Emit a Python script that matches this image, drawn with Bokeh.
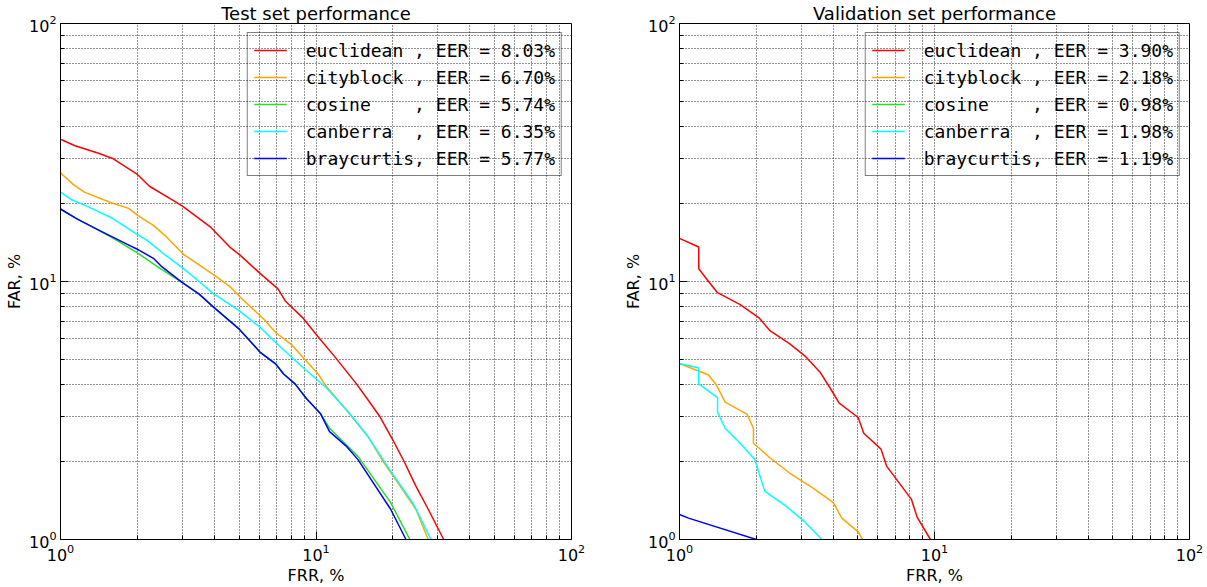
from bokeh.plotting import figure
from bokeh.layouts import row
from bokeh.models import FixedTicker, Legend, LegendItem
from bokeh.embed import file_html
from bokeh.resources import INLINE

# ---------------- data ----------------
metrics = ["euclidean", "cityblock", "cosine", "canberra", "braycurtis"]
colors = ["#ff0000", "#ffa500", "#22e022", "#00ffff", "#0000ff"]

test_eer = [8.03, 6.70, 5.74, 6.35, 5.77]
val_eer = [3.90, 2.18, 0.98, 1.98, 1.19]

# Test set curves (FRR %, FAR %)
test_frr_euclidean = [1.0, 1.14, 1.40, 1.61, 2.0, 2.23, 2.79, 3.02, 3.88, 4.60, 5.07, 6.07, 7.10, 7.60, 8.88,
                      10.0, 11.9, 14.4, 16.2, 17.8, 20.0, 22.1, 24.6, 27.5, 31.6]
test_far_euclidean = [35.6, 33.6, 31.5, 29.9, 26.0, 23.4, 20.5, 19.5, 16.2, 13.6, 12.6, 10.7, 9.36, 8.38, 7.23,
                      6.24, 5.08, 4.01, 3.41, 2.99, 2.43, 2.01, 1.61, 1.31, 1.0]
test_frr_cityblock = [1.0, 1.12, 1.24, 1.58, 1.85, 2.01, 2.31, 2.56, 3.04, 3.49, 4.15, 4.6, 5.02, 6.28, 6.97,
                      8.0, 9.03, 10.2, 10.9, 13.0, 16.0, 18.3, 21.8, 24.6, 27.5]
test_far_cityblock = [26.4, 23.8, 22.2, 20.2, 19.2, 18.0, 16.5, 15.1, 12.7, 11.6, 10.3, 9.56, 8.75, 7.11, 6.33,
                      5.71, 5.0, 4.38, 3.95, 3.22, 2.50, 2.01, 1.56, 1.31, 1.0]
test_frr_cosine = [1.0, 1.16, 1.38, 1.61, 1.98, 2.31, 2.47, 2.99, 3.49, 3.94, 5.02, 6.07, 6.97, 7.47, 8.28,
                   9.19, 10.4, 11.3, 14.6, 19.6, 23.3]
test_far_cosine = [19.1, 17.5, 16.0, 14.7, 13.0, 11.7, 11.2, 9.93, 8.93, 8.01, 6.52, 5.30, 4.78, 4.38, 4.01,
                   3.51, 3.08, 2.70, 2.10, 1.39, 1.0]
test_frr_canberra = [1.0, 1.10, 1.28, 1.61, 1.98, 2.19, 2.56, 3.04, 3.49, 3.94, 4.94, 6.07, 6.97, 8.87, 10.9,
                     13.4, 16.0, 19.6, 24.1, 28.2]
test_far_canberra = [22.2, 20.8, 19.5, 17.5, 15.3, 14.4, 12.7, 11.2, 10.0, 9.01, 7.78, 6.62, 5.79, 4.65, 3.90,
                     3.12, 2.50, 1.84, 1.37, 1.0]
test_frr_braycurtis = [1.0, 1.16, 1.38, 1.81, 1.98, 2.31, 2.47, 2.99, 3.49, 3.94, 5.02, 6.07, 6.97, 7.47, 8.28,
                       9.19, 10.4, 11.3, 13.2, 14.6, 19.6, 22.5]
test_far_braycurtis = [19.1, 17.5, 16.0, 14.0, 13.4, 12.3, 11.5, 9.93, 8.93, 8.01, 6.52, 5.30, 4.78, 4.38, 4.01,
                       3.51, 3.08, 2.62, 2.29, 2.04, 1.31, 1.0]

# Validation set curves (FRR %, FAR %)
val_frr_euclidean = [1.0, 1.19, 1.19, 1.30, 1.41, 1.73, 2.05, 2.27, 2.70, 3.10, 3.56, 3.95, 4.23, 5.02, 5.28,
                     6.17, 6.50, 8.12, 8.55, 9.64]
val_far_euclidean = [14.7, 13.6, 11.2, 10.0, 9.05, 8.13, 7.23, 6.43, 5.74, 5.15, 4.45, 3.78, 3.38, 2.97, 2.58,
                     2.24, 1.92, 1.43, 1.22, 1.0]
val_frr_cityblock = [1.0, 1.30, 1.40, 1.51, 1.84, 1.95, 1.95, 2.27, 2.70, 3.32, 4.01, 4.33, 5.02, 5.23]
val_far_cityblock = [4.81, 4.34, 3.95, 3.41, 3.06, 2.70, 2.36, 2.07, 1.81, 1.59, 1.39, 1.21, 1.07, 1.0]
val_frr_cosine = [0.6, 0.98]
val_far_cosine = [1.5, 0.98]
val_frr_canberra = [1.0, 1.19, 1.19, 1.41, 1.41, 1.51, 1.73, 1.97, 2.16, 2.61, 3.10, 3.62]
val_far_canberra = [4.81, 4.62, 4.01, 3.55, 3.12, 2.70, 2.36, 2.05, 1.54, 1.35, 1.17, 1.0]
val_frr_braycurtis = [1.0, 1.085, 2.0]
val_far_braycurtis = [1.25, 1.21, 1.0]

test_curves = [(test_frr_euclidean, test_far_euclidean), (test_frr_cityblock, test_far_cityblock),
               (test_frr_cosine, test_far_cosine), (test_frr_canberra, test_far_canberra),
               (test_frr_braycurtis, test_far_braycurtis)]
val_curves = [(val_frr_euclidean, val_far_euclidean), (val_frr_cityblock, val_far_cityblock),
              (val_frr_cosine, val_far_cosine), (val_frr_canberra, val_far_canberra),
              (val_frr_braycurtis, val_far_braycurtis)]

major_ticks = [1, 10, 100]
minor_ticks = [2, 3, 4, 5, 6, 7, 8, 9, 20, 30, 40, 50, 60, 70, 80, 90]

NB = "\u00a0"


def make_label(name, eer):
    padded = name.ljust(10).replace(" ", NB)
    return f"{padded}, EER = {eer:.2f}%"


def make_plot(title, curves, eers, width, border_left, border_right):
    p = figure(width=width, height=587, x_axis_type="log", y_axis_type="log",
               x_range=(1, 100), y_range=(1, 100), output_backend="svg",
               toolbar_location=None, min_border_left=border_left, min_border_right=border_right,
               min_border_top=22, min_border_bottom=43)
    p.title.text = title
    p.title.align = "center"
    p.title.text_font = "DejaVu Sans"
    p.title.text_font_size = "18px"
    p.title.text_font_style = "normal"
    p.title.text_color = "black"
    p.title.standoff = 0
    p.title.offset = 0

    for ax in (p.xaxis[0], p.yaxis[0]):
        ax.ticker = FixedTicker(ticks=major_ticks, minor_ticks=minor_ticks)
        ax.major_label_text_font = "DejaVu Sans"
        ax.major_label_text_font_size = "16px"
        ax.major_label_text_color = "black"
        ax.axis_label_text_font = "DejaVu Sans"
        ax.axis_label_text_font_size = "16px"
        ax.axis_label_text_font_style = "normal"
        ax.axis_label_text_color = "black"
        ax.axis_line_color = "black"
        ax.major_tick_in = 8
        ax.major_tick_out = 0
        ax.minor_tick_in = 4
        ax.minor_tick_out = 0
        ax.major_tick_line_color = "black"
        ax.minor_tick_line_color = "black"
        ax.major_label_standoff = 4
        ax.axis_label_standoff = 2
    p.xaxis.axis_label = "FRR, %"
    p.yaxis.axis_label = "FAR, %"

    for g in (p.xgrid[0], p.ygrid[0]):
        g.grid_line_color = "black"
        g.grid_line_alpha = 0.85
        g.grid_line_dash = "1 2"
        g.grid_line_width = 1
        g.minor_grid_line_color = "black"
        g.minor_grid_line_alpha = 0.85
        g.minor_grid_line_dash = "1 2"
        g.minor_grid_line_width = 1

    p.outline_line_color = "black"
    p.outline_line_width = 1
    p.background_fill_color = "white"
    p.border_fill_color = "white"

    items = []
    for name, eer, color, (xs, ys) in zip(metrics, eers, colors, curves):
        r = p.line(xs, ys, line_color=color, line_width=1.5)
        items.append(LegendItem(label=make_label(name, eer), renderers=[r]))

    legend = Legend(items=items, location="top_right")
    legend.margin = 9
    legend.padding = 6
    legend.spacing = 5
    legend.label_height = 22
    legend.glyph_height = 22
    legend.glyph_width = 33
    legend.label_standoff = 19
    legend.label_text_font = "DejaVu Sans Mono"
    legend.label_text_font_size = "18px"
    legend.label_text_color = "black"
    legend.border_line_color = "black"
    legend.border_line_width = 1.2
    legend.background_fill_alpha = 0.0
    p.add_layout(legend, "center")
    return p


p1 = make_plot("Test set performance", test_curves, test_eer, 619, 60, 48)
p2 = make_plot("Validation set performance", val_curves, val_eer, 588, 60, 18)

layout = row(p1, p2, spacing=0)
open("out.html", "w").write(file_html(layout, INLINE))
